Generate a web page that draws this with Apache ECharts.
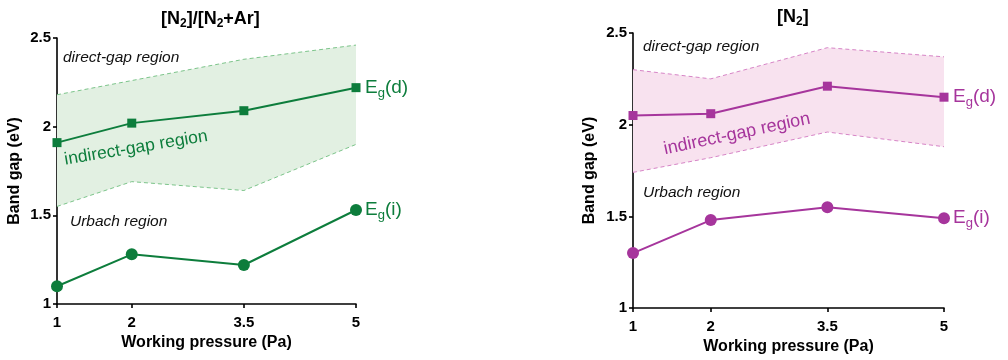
<!DOCTYPE html>
<html><head><meta charset="utf-8">
<script src="https://cdn.jsdelivr.net/npm/echarts@6/dist/echarts.min.js"></script>
<style>html,body{margin:0;padding:0;background:#fff}#c{width:1008px;height:360px}</style>
</head><body><div id="c"></div>
<script>
const pressure = [1, 2, 3.5, 5];
const xTicks = [1, 2, 3.5, 5];
const yTicks = [1, 1.5, 2, 2.5];
// Left panel: [N2]/[N2+Ar]
const leftEgD = [1.91, 2.02, 2.09, 2.22];
const leftEgI = [1.10, 1.28, 1.22, 1.53];
const leftBandUpper = [2.18, 2.26, 2.38, 2.46];
const leftBandLower = [1.55, 1.69, 1.64, 1.90];
// Right panel: [N2]
const rightEgD = [2.05, 2.06, 2.21, 2.15];
const rightEgI = [1.30, 1.48, 1.55, 1.49];
const rightBandUpper = [2.30, 2.25, 2.42, 2.37];
const rightBandLower = [1.74, 1.82, 1.96, 1.88];

const FONT = '"Liberation Sans", Arial, sans-serif';
const GREEN = '#0d7d3c', GREEN_FILL = '#e2f0e2', GREEN_DASH = '#7cc48a';
const MAG = '#a6359c', MAG_FILL = '#f8e2ef', MAG_DASH = '#d684c6';

const pairs = (ys) => pressure.map((x, i) => [x, ys[i]]);

function xAxis(gi, gap) {
  return {
    gridIndex: gi, type: 'value', min: 1, max: 5,
    axisLine: { onZero: false, lineStyle: { color: '#000', width: 1.6 } },
    axisTick: { customValues: xTicks, length: 4, lineStyle: { color: '#000', width: 1.6 } },
    axisLabel: { customValues: xTicks, color: '#000', fontWeight: 'bold', fontSize: 15, fontFamily: FONT, margin: 11 },
    splitLine: { show: false },
    name: 'Working pressure (Pa)', nameLocation: 'middle', nameGap: gap,
    nameTextStyle: { color: '#000', fontWeight: 'bold', fontSize: 16, fontFamily: FONT }
  };
}
function yAxis(gi, gap) {
  return {
    gridIndex: gi, type: 'value', min: 1, max: 2.5, interval: 0.5,
    axisLine: { show: true, onZero: false, lineStyle: { color: '#000', width: 1.6 } },
    axisTick: { show: true, length: 4, lineStyle: { color: '#000', width: 1.6 } },
    axisLabel: { color: '#000', fontWeight: 'bold', fontSize: 15, fontFamily: FONT, margin: 6 },
    splitLine: { show: false },
    name: 'Band gap (eV)', nameLocation: 'middle', nameGap: gap, nameRotate: 90,
    nameTextStyle: { color: '#000', fontWeight: 'bold', fontSize: 16, fontFamily: FONT }
  };
}
function band(gi, upper, lower, fill) {
  return {
    type: 'custom', xAxisIndex: gi, yAxisIndex: gi, silent: true, z: 1,
    data: [0],
    renderItem: (params, api) => {
      const pts = [];
      for (let i = 0; i < pressure.length; i++) pts.push(api.coord([pressure[i], upper[i]]));
      for (let i = pressure.length - 1; i >= 0; i--) pts.push(api.coord([pressure[i], lower[i]]));
      return { type: 'polygon', shape: { points: pts }, style: { fill: fill } };
    }
  };
}
function dashed(gi, ys, color) {
  return {
    type: 'line', xAxisIndex: gi, yAxisIndex: gi, data: pairs(ys), symbol: 'none', silent: true, z: 2,
    lineStyle: { type: [4, 3], width: 1, color: color }
  };
}
function main(gi, ys, color, sym, size, tag) {
  return {
    type: 'line', xAxisIndex: gi, yAxisIndex: gi, data: pairs(ys), symbol: sym, symbolSize: size, z: 3,
    itemStyle: { color: color }, lineStyle: { width: 2, color: color },
    endLabel: {
      show: true, distance: 9, formatter: '{e|E}{s|g}{e|(' + tag + ')}',
      rich: {
        e: { fontSize: 19, color: color, fontFamily: FONT },
        s: { fontSize: 13, color: color, fontFamily: FONT, padding: [11, 0, 0, 0] }
      }
    }
  };
}
const note = (x, y, t) => ({ type: 'text', z: 100, x: x, y: y, style: { text: t, font: 'italic 15.5px ' + FONT, fill: '#111', textVerticalAlign: 'middle' } });
const rotNote = (x, y, deg, t, c, fs) => ({ type: 'text', z: 100, x: x, y: y, rotation: deg * Math.PI / 180, style: { text: t, font: fs + 'px ' + FONT, fill: c, textAlign: 'center', textVerticalAlign: 'middle' } });

const titleRich = { s: { fontSize: 12, fontWeight: 'bold', color: '#000', fontFamily: FONT, padding: [10, 0, 0, 0] } };
const option = {
  animation: false,
  title: [
    { text: '[N{s|2}]/[N{s|2}+Ar]', left: 156, top: 3,
      textStyle: { fontSize: 18, fontWeight: 'bold', color: '#000', fontFamily: FONT, rich: titleRich } },
    { text: '[N{s|2}]', left: 772, top: 1,
      textStyle: { fontSize: 18, fontWeight: 'bold', color: '#000', fontFamily: FONT, rich: titleRich } }
  ],
  grid: [
    { left: 57, top: 38, width: 299, height: 266 },
    { left: 633, top: 33, width: 311, height: 277 }
  ],
  xAxis: [xAxis(0, 30), xAxis(1, 30)],
  yAxis: [yAxis(0, 34), yAxis(1, 35)],
  series: [
    band(0, leftBandUpper, leftBandLower, GREEN_FILL),
    dashed(0, leftBandUpper, GREEN_DASH),
    dashed(0, leftBandLower, GREEN_DASH),
    main(0, leftEgD, GREEN, 'rect', 9, 'd'),
    main(0, leftEgI, GREEN, 'circle', 12, 'i'),
    band(1, rightBandUpper, rightBandLower, MAG_FILL),
    dashed(1, rightBandUpper, MAG_DASH),
    dashed(1, rightBandLower, MAG_DASH),
    main(1, rightEgD, MAG, 'rect', 9, 'd'),
    main(1, rightEgI, MAG, 'circle', 12, 'i')
  ],
  graphic: [
    note(63, 58, 'direct-gap region'),
    note(70, 222, 'Urbach region'),
    rotNote(136, 148, 9.5, 'indirect-gap region', GREEN, 17.5),
    note(643, 47, 'direct-gap region'),
    note(643, 193, 'Urbach region'),
    rotNote(737, 134, 12, 'indirect-gap region', MAG, 18)
  ]
};
const chart = echarts.init(document.getElementById('c'), null, { renderer: 'canvas' });
chart.setOption(option);
</script>
</body></html>
